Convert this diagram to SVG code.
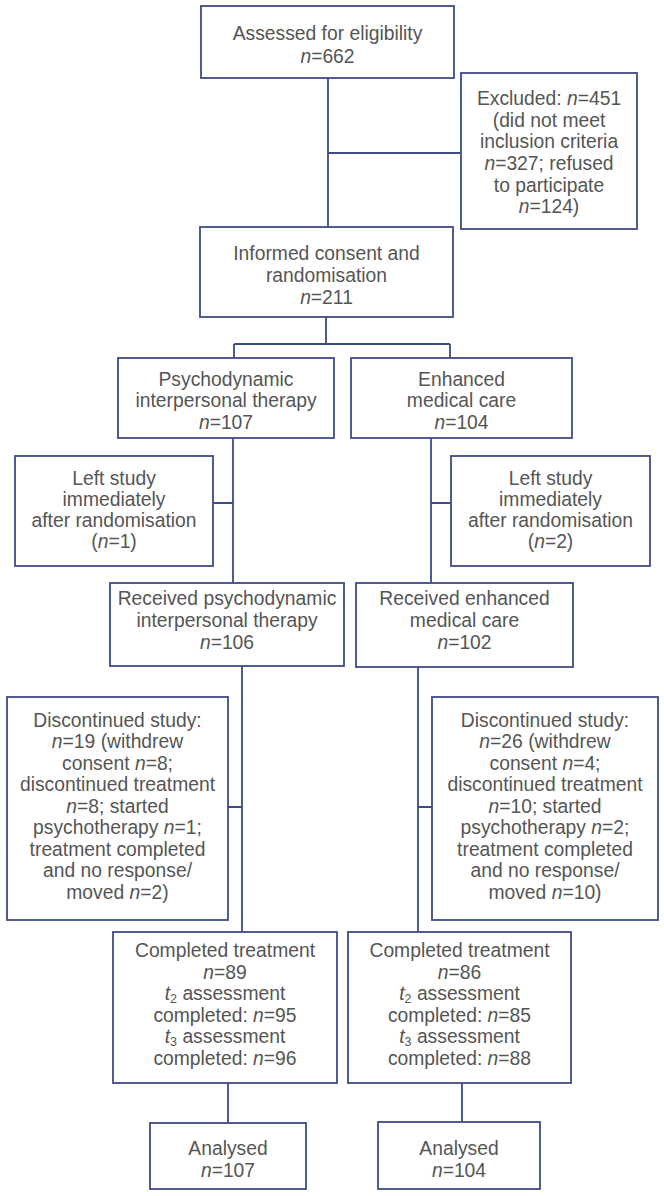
<svg xmlns="http://www.w3.org/2000/svg" width="664" height="1196" viewBox="0 0 664 1196">
<style>
.b{fill:#fff;stroke:#3f4b86;stroke-width:1.8}
.c{fill:none;stroke:#3f4b86;stroke-width:1.8}
text{font-family:"Liberation Sans",Arial,sans-serif;font-size:19.3px;fill:#555;text-anchor:middle}
.i{font-style:italic}
.s{font-size:12.5px}
</style>
<rect width="664" height="1196" fill="#fff"/>
<g id="connectors">
<path class="c" d="M328 78V227M328 153H461"/>
<path class="c" d="M326 317V344M234 344H450M234 344V358M450 344V358"/>
<path class="c" d="M233 438V583M213 503H233"/>
<path class="c" d="M431 438V583M431 503H451"/>
<path class="c" d="M242 666V932M228 807H242"/>
<path class="c" d="M418 667V932M418 807H432"/>
<path class="c" d="M228 1083V1123M462 1083V1122"/>
</g>
<g id="assessed"><rect class="b" x="201" y="6" width="253" height="72"/>
<text x="327.5" y="40">Assessed for eligibility</text>
<text x="327.5" y="63"><tspan class="i">n</tspan>=662</text></g>
<g id="excluded"><rect class="b" x="461" y="73" width="176" height="156"/>
<text x="549" y="105">Excluded: <tspan class="i">n</tspan>=451</text>
<text x="549" y="127">(did not meet</text>
<text x="549" y="148">inclusion criteria</text>
<text x="549" y="170"><tspan class="i">n</tspan>=327; refused</text>
<text x="549" y="192">to participate</text>
<text x="549" y="213"><tspan class="i">n</tspan>=124)</text></g>
<g id="informed"><rect class="b" x="200" y="227" width="253" height="90"/>
<text x="326.5" y="260">Informed consent and</text>
<text x="326.5" y="282">randomisation</text>
<text x="326.5" y="304"><tspan class="i">n</tspan>=211</text></g>
<g id="pit"><rect class="b" x="118" y="358" width="216" height="80"/>
<text x="226" y="386">Psychodynamic</text>
<text x="226" y="407">interpersonal therapy</text>
<text x="226" y="429"><tspan class="i">n</tspan>=107</text></g>
<g id="emc"><rect class="b" x="351" y="358" width="221" height="80"/>
<text x="461.5" y="386">Enhanced</text>
<text x="461.5" y="407">medical care</text>
<text x="461.5" y="429"><tspan class="i">n</tspan>=104</text></g>
<g id="leftL"><rect class="b" x="15" y="456" width="198" height="110"/>
<text x="114" y="485">Left study</text>
<text x="114" y="506">immediately</text>
<text x="114" y="527">after randomisation</text>
<text x="114" y="548">(<tspan class="i">n</tspan>=1)</text></g>
<g id="leftR"><rect class="b" x="451" y="456" width="199" height="110"/>
<text x="550.5" y="485">Left study</text>
<text x="550.5" y="506">immediately</text>
<text x="550.5" y="527">after randomisation</text>
<text x="550.5" y="548">(<tspan class="i">n</tspan>=2)</text></g>
<g id="recL"><rect class="b" x="110" y="583" width="234" height="83"/>
<text x="227" y="605">Received psychodynamic</text>
<text x="227" y="627">interpersonal therapy</text>
<text x="227" y="649"><tspan class="i">n</tspan>=106</text></g>
<g id="recR"><rect class="b" x="356" y="583" width="217" height="84"/>
<text x="464.5" y="605">Received enhanced</text>
<text x="464.5" y="627">medical care</text>
<text x="464.5" y="649"><tspan class="i">n</tspan>=102</text></g>
<g id="discL"><rect class="b" x="7" y="697" width="221" height="223"/>
<text x="117.5" y="727">Discontinued study:</text>
<text x="117.5" y="748"><tspan class="i">n</tspan>=19 (withdrew</text>
<text x="117.5" y="770">consent <tspan class="i">n</tspan>=8;</text>
<text x="117.5" y="791">discontinued treatment</text>
<text x="117.5" y="813"><tspan class="i">n</tspan>=8; started</text>
<text x="117.5" y="834">psychotherapy <tspan class="i">n</tspan>=1;</text>
<text x="117.5" y="856">treatment completed</text>
<text x="117.5" y="877">and no response/</text>
<text x="117.5" y="899">moved <tspan class="i">n</tspan>=2)</text></g>
<g id="discR"><rect class="b" x="432" y="697" width="226" height="223"/>
<text x="545" y="727">Discontinued study:</text>
<text x="545" y="748"><tspan class="i">n</tspan>=26 (withdrew</text>
<text x="545" y="770">consent <tspan class="i">n</tspan>=4;</text>
<text x="545" y="791">discontinued treatment</text>
<text x="545" y="813"><tspan class="i">n</tspan>=10; started</text>
<text x="545" y="834">psychotherapy <tspan class="i">n</tspan>=2;</text>
<text x="545" y="856">treatment completed</text>
<text x="545" y="877">and no response/</text>
<text x="545" y="899">moved <tspan class="i">n</tspan>=10)</text></g>
<g id="compL"><rect class="b" x="113" y="932" width="224" height="151"/>
<text x="225" y="957">Completed treatment</text>
<text x="225" y="979"><tspan class="i">n</tspan>=89</text>
<text x="225" y="1000"><tspan class="i">t</tspan><tspan class="s" dy="3">2</tspan><tspan dy="-3"> assessment</tspan></text>
<text x="225" y="1022">completed: <tspan class="i">n</tspan>=95</text>
<text x="225" y="1043"><tspan class="i">t</tspan><tspan class="s" dy="3">3</tspan><tspan dy="-3"> assessment</tspan></text>
<text x="225" y="1065">completed: <tspan class="i">n</tspan>=96</text></g>
<g id="compR"><rect class="b" x="348" y="932" width="223" height="151"/>
<text x="459.5" y="957">Completed treatment</text>
<text x="459.5" y="979"><tspan class="i">n</tspan>=86</text>
<text x="459.5" y="1000"><tspan class="i">t</tspan><tspan class="s" dy="3">2</tspan><tspan dy="-3"> assessment</tspan></text>
<text x="459.5" y="1022">completed: <tspan class="i">n</tspan>=85</text>
<text x="459.5" y="1043"><tspan class="i">t</tspan><tspan class="s" dy="3">3</tspan><tspan dy="-3"> assessment</tspan></text>
<text x="459.5" y="1065">completed: <tspan class="i">n</tspan>=88</text></g>
<g id="anL"><rect class="b" x="150" y="1123" width="156" height="66"/>
<text x="228" y="1155">Analysed</text>
<text x="228" y="1177"><tspan class="i">n</tspan>=107</text></g>
<g id="anR"><rect class="b" x="378" y="1122" width="162" height="67"/>
<text x="459" y="1155">Analysed</text>
<text x="459" y="1177"><tspan class="i">n</tspan>=104</text></g>
</svg>
